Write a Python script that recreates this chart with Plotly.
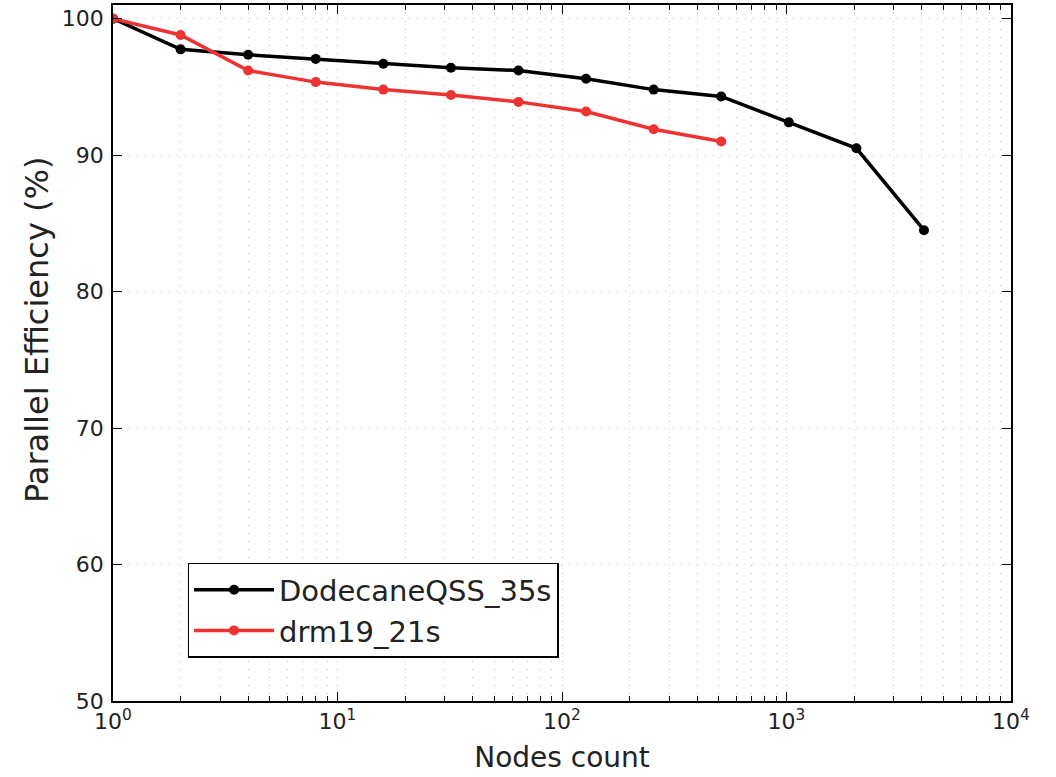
import plotly.graph_objects as go

# Node counts (powers of two) and measured parallel efficiency (%)
nodes_dodecane = [1, 2, 4, 8, 16, 32, 64, 128, 256, 512, 1024, 2048, 4096]
eff_dodecane = [100.0, 97.75, 97.35, 97.05, 96.7, 96.4, 96.2, 95.6, 94.8, 94.3, 92.4, 90.5, 84.5]

nodes_drm19 = [1, 2, 4, 8, 16, 32, 64, 128, 256, 512]
eff_drm19 = [100.0, 98.8, 96.2, 95.35, 94.8, 94.4, 93.9, 93.2, 91.9, 91.0]

y_ticks = [50, 60, 70, 80, 90, 100]
x_major = [1, 10, 100, 1000, 10000]
x_major_text = ["10<sup>0</sup>", "10<sup>1</sup>", "10<sup>2</sup>", "10<sup>3</sup>", "10<sup>4</sup>"]
x_minor = [m * 10 ** d for d in range(4) for m in range(2, 10)]

FONT = "DejaVu Sans"
TEXT = "#222222"
GRID = "#bdbdbd"
TICK_SIZE = 22

fig = go.Figure()
fig.add_trace(go.Scatter(
    x=nodes_dodecane, y=eff_dodecane, name="DodecaneQSS_35s",
    mode="lines+markers",
    line=dict(color="black", width=3.5),
    marker=dict(color="black", size=10),
))
fig.add_trace(go.Scatter(
    x=nodes_drm19, y=eff_drm19, name="drm19_21s",
    mode="lines+markers",
    line=dict(color="#EE3232", width=3.5),
    marker=dict(color="#EE3232", size=10),
))

axis_common = dict(
    showline=True, linecolor="black", linewidth=1.5, mirror="ticks",
    ticks="inside", tickcolor="black", tickwidth=1.2, ticklen=9,
    zeroline=False, automargin=False,
    tickfont=dict(family=FONT, size=TICK_SIZE, color=TEXT),
    gridcolor=GRID, griddash="1px,7px", gridwidth=1.2,
)

fig.update_layout(
    width=1056, height=777,
    margin=dict(l=113, r=45, t=5, b=76),
    paper_bgcolor="white", plot_bgcolor="white",
    font=dict(family=FONT, color=TEXT),
    xaxis=dict(
        type="log", range=[0, 4],
        tickvals=x_major, ticktext=x_major_text,
        showgrid=True,
        minor=dict(tickvals=x_minor, ticks="inside", ticklen=5,
                   tickcolor="black", tickwidth=1,
                   showgrid=True, gridcolor=GRID, griddash="1px,7px", gridwidth=1.2),
        title=dict(text="Nodes count", font=dict(family=FONT, size=28, color=TEXT), standoff=14),
        **axis_common,
    ),
    yaxis=dict(
        range=[50, 101], tickvals=y_ticks,
        showgrid=True, ticklabelstandoff=3,
        **axis_common,
    ),
    legend=dict(
        x=0.083, y=0.062, xanchor="left", yanchor="bottom",
        bordercolor="black", borderwidth=1.5, bgcolor="white",
        font=dict(family=FONT, size=29, color=TEXT),
        itemwidth=80,
    ),
    annotations=[dict(
        text="Parallel Efficiency (%)", textangle=-90,
        xref="paper", yref="paper", x=-0.0846, y=0.533,
        xanchor="center", yanchor="middle", showarrow=False,
        font=dict(family=FONT, size=32, color=TEXT),
    )],
)

fig.write_html("out.html")
